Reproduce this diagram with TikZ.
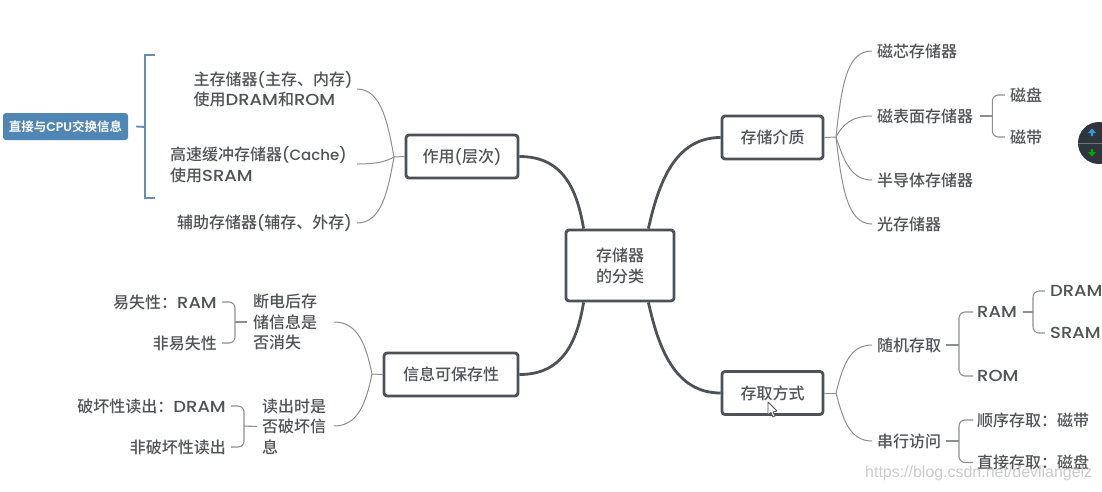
\documentclass[tikz,border=0pt]{standalone}
\usepackage{fontspec}
\setmainfont{Poppins}
\newfontfamily\cjk{Noto Sans CJK SC Medium}
\newfontfamily\cjkbold{Noto Sans CJK SC Bold}
\newfontfamily\lat{Poppins Medium}
\newfontfamily\latb{Poppins SemiBold}
\newfontfamily\latw[FakeStretch=1.12]{Poppins Medium}
\newfontfamily\wmfont{Liberation Sans}
\newcommand{\la}[1]{{\lat\fontsize{15}{20.5}\selectfont #1}}
\newcommand{\LA}[1]{{\latw\fontsize{16}{20.5}\selectfont #1}}
\usetikzlibrary{calc}
\definecolor{ink}{HTML}{505357}
\definecolor{boxline}{HTML}{4D5258}
\definecolor{thin}{HTML}{8E8F91}
\definecolor{blueb}{HTML}{4F86B6}
\definecolor{bluel}{HTML}{5F8FBA}
\definecolor{widget}{HTML}{2F353D}
\tikzset{
  mainbox/.style={draw=boxline,line width=2.8pt,rounded corners=3pt,fill=white,text=ink,align=center,inner sep=0pt,font=\cjk\fontsize{16}{21}\selectfont},
  leaf/.style={text=ink,inner xsep=0pt,inner ysep=0pt,align=left,font=\cjk\fontsize{16}{20.5}\selectfont},
  thick link/.style={draw=boxline,line width=2.8pt},
  thin link/.style={draw=thin,line width=1.1pt,rounded corners=6pt},
  fan/.style={draw=thin,line width=1pt},
  bluel link/.style={draw=bluel,line width=1.8pt},
}
\begin{document}
\begin{tikzpicture}[x=1pt,y=-1pt]
\useasboundingbox (0,0) rectangle (1102,491);
\fill[white] (0,0) rectangle (1102,491);

% main boxes
\node[mainbox,minimum width=108pt,minimum height=71pt] (c) at (620,265.5) {存储器\\的分类};
\node[mainbox,minimum width=112pt,minimum height=43pt] (zy) at (462,156.5) {作用\la{(}层次\la{)}};
\node[mainbox,minimum width=101pt,minimum height=43pt] (jz) at (772.5,137.5) {存储介质};
\node[mainbox,minimum width=134pt,minimum height=43pt] (xx) at (451,374.5) {信息可保存性};
\node[mainbox,minimum width=101pt,minimum height=43pt] (cq) at (772.5,393) {存取方式};

\draw[thick link] (zy.east) .. controls +(42,0) and +(-7,-42) .. ([xshift=19pt]c.north west);
\draw[thick link] (jz.west) .. controls +(-46,0) and +(10,-45) .. ([xshift=-27pt]c.north east);
\draw[thick link] (xx.east) .. controls +(42,0) and +(-7,42) .. ([xshift=19pt]c.south west);
\draw[thick link] (cq.west) .. controls +(-46,0) and +(10,45) .. ([xshift=-27pt]c.south east);

% 存储介质 branch
\coordinate (jzj) at (836,137);
\node[leaf,anchor=west] (a1) at (877,51) {磁芯存储器};
\node[leaf,anchor=west] (a2) at (877,116) {磁表面存储器};
\node[leaf,anchor=west] (a3) at (877,180) {半导体存储器};
\node[leaf,anchor=west] (a4) at (877,224) {光存储器};
\node[leaf,anchor=west] (a21) at (1010,95) {磁盘};
\node[leaf,anchor=west] (a22) at (1010,137) {磁带};
\draw[fan] (jz.east) -- (jzj);
\draw[fan] (jzj) .. controls (842,80) and (848,51) .. ([xshift=-5pt]a1.west);
\draw[fan] (jzj) .. controls (843,124) and (852,116) .. ([xshift=-5pt]a2.west);
\draw[fan] (jzj) .. controls (843,158) and (850,180) .. ([xshift=-5pt]a3.west);
\draw[fan] (jzj) .. controls (842,190) and (848,224) .. ([xshift=-5pt]a4.west);
\coordinate (a2s) at ([xshift=7pt]a2.east);
\coordinate (a2j) at ($(a2s)+(12,0)$);
\draw[thin link] (a2s) -- (a2j);
\draw[thin link] ([xshift=-5pt]a21.west) -| (a2j) |- ([xshift=-5pt]a22.west);

% 存取方式 branch
\coordinate (cqj) at (836,393);
\node[leaf,anchor=west] (b1) at (877,345) {随机存取};
\node[leaf,anchor=west] (b2) at (877,441) {串行访问};
\node[leaf,anchor=west] (b11) at (977,312) {\LA{RAM}};
\node[leaf,anchor=west] (b12) at (977,376) {\LA{ROM}};
\node[leaf,anchor=west] (b111) at (1050,291) {\LA{DRAM}};
\node[leaf,anchor=west] (b112) at (1050,333) {\LA{SRAM}};
\node[leaf,anchor=west] (b21) at (977,420) {顺序存取：磁带};
\node[leaf,anchor=west] (b22) at (977,462.5) {直接存取：磁盘};
\draw[fan] (cq.east) -- (cqj);
\draw[fan] (cqj) .. controls (843,365) and (850,345) .. ([xshift=-5pt]b1.west);
\draw[fan] (cqj) .. controls (843,420) and (850,441) .. ([xshift=-5pt]b2.west);
\coordinate (b1j) at (959,345);
\draw[thin link] ([xshift=5pt]b1.east) -- (b1j);
\draw[thin link] ([xshift=-4pt]b11.west) -| (b1j) |- ([xshift=-4pt]b12.west);
\coordinate (b11j) at (1033,312);
\draw[thin link] ([xshift=6pt]b11.east) -- (b11j);
\draw[thin link] ([xshift=-5pt]b111.west) -| (b11j) |- ([xshift=-5pt]b112.west);
\coordinate (b2j) at (959,441);
\draw[thin link] ([xshift=5pt]b2.east) -- (b2j);
\draw[thin link] ([xshift=-4pt]b21.west) -| (b2j) |- ([xshift=-4pt]b22.west);

% 作用 branch
\coordinate (zyj) at (394,157);
\node[leaf,anchor=west] (l1) at (193.5,89) {主存储器\la{(}主存、内存\la{)}\\使用\LA{DRAM}和\LA{ROM}};
\node[leaf,anchor=west] (l2) at (170,164.5) {高速缓冲存储器\la{(Cache)}\\使用\LA{SRAM}};
\node[leaf,anchor=east] (l3) at (352,223) {辅助存储器\la{(}辅存、外存\la{)}};
\coordinate (l1e) at (357,89);
\coordinate (l2e) at (357,164);
\draw[fan] (zy.west) -- (zyj);
\draw[fan] (zyj) .. controls (388,125) and (382,89) .. (l1e);
\draw[fan] (zyj) .. controls (385,162) and (375,164) .. (l2e);
\draw[fan] (zyj) .. controls (388,190) and (382,223) .. ([xshift=5pt]l3.east);

% blue label
\node[fill=blueb,rounded corners=3pt,text=white,minimum width=125pt,minimum height=27pt,inner sep=0pt,font=\cjkbold\fontsize{12.5}{15}\selectfont] (bl) at (65.5,126.5) {直接与{\latb CPU}交换信息};
\coordinate (bljt) at (145,127);
\draw[bluel link] ([xshift=8pt]bl.east) -- (bljt);
\draw[bluel link] (155,55) -- (145,55) -- (145,198) -- (155,198);

% 信息可保存性 branch
\coordinate (xxj) at (372,374);
\node[leaf,anchor=west] (m1) at (253,322) {断电后存\\储信息是\\否消失};
\node[leaf,anchor=west] (m2) at (262,426.5) {读出时是\\否破坏信\\息};
\node[leaf,anchor=east] (m11) at (217,302) {易失性：\LA{RAM}};
\node[leaf,anchor=east] (m12) at (217,343) {非易失性};
\node[leaf,anchor=east] (m21) at (226,406) {破坏性读出：\LA{DRAM}};
\node[leaf,anchor=east] (m22) at (226,447) {非破坏性读出};
\coordinate (m1e) at (334,322);
\coordinate (m2e) at (334,426);
\draw[fan] (xx.west) -- (xxj);
\draw[fan] (xxj) .. controls (366,345) and (358,322) .. (m1e);
\draw[fan] (xxj) .. controls (366,403) and (358,426) .. (m2e);
\coordinate (m1j) at (235,322);
\draw[thin link] ([xshift=-6pt]m1.west) -- (m1j);
\draw[thin link] ([xshift=5pt]m11.east) -| (m1j) |- ([xshift=5pt]m12.east);
\coordinate (m2j) at (244,426);
\draw[thin link] ([xshift=-5pt]m2.west) -- (m2j);
\draw[thin link] ([xshift=5pt]m21.east) -| (m2j) |- ([xshift=5pt]m22.east);

% watermark
\node[text=black!20,anchor=west,inner sep=0pt,font=\wmfont\fontsize{15.95}{18}\selectfont] (wm) at (865,473) {https://blog.csdn.net/devliangelz};

% side widget
\begin{scope}
\clip (1060,110) rectangle (1102,175);
\fill[widget] (1099,143) circle (21);
\draw[black!55,line width=0.6pt] (1078,143) -- (1102,143);
\end{scope}
\fill[cyan!70!blue!80!white] (1092,128.5) -- (1096,133) -- (1093.2,133) -- (1093.2,136) -- (1090.8,136) -- (1090.8,133) -- (1088,133) -- cycle;
\fill[green!65!black] (1092,156.5) -- (1096,152) -- (1093.2,152) -- (1093.2,149) -- (1090.8,149) -- (1090.8,152) -- (1088,152) -- cycle;

% mouse cursor
\filldraw[fill=white,draw=ink,line width=0.8pt,line join=round] (768,402) -- (768,415) -- (771,412.5) -- (773,417) -- (775,416) -- (773,412) -- (777,411) -- cycle;
\end{tikzpicture}
\end{document}
